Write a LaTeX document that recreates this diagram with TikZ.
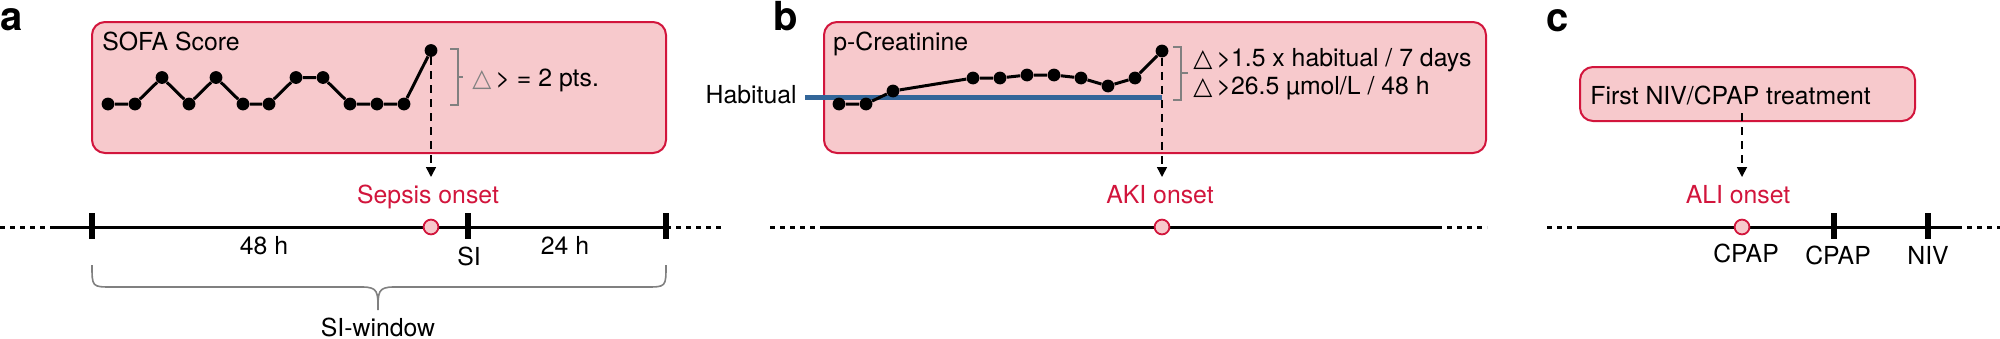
\documentclass[tikz,border=0pt]{standalone}
\usepackage{fontspec}
\setmainfont{TeX Gyre Heros}
\newfontfamily\dejavu{DejaVu Sans}
\usetikzlibrary{arrows.meta}
\definecolor{boxfill}{HTML}{F7C9CC}
\definecolor{boxred}{HTML}{D2153C}
\definecolor{onsetred}{HTML}{D2153C}
\definecolor{habblue}{HTML}{336699}
\definecolor{bracegrey}{HTML}{808080}
\begin{document}
\begin{tikzpicture}[x=0.5pt,y=-0.5pt,
  every node/.style={font=\fontsize{12.4}{14}\selectfont, inner sep=0pt},
  panelbox/.style={draw=boxred, fill=boxfill, line width=1pt, rounded corners=6.5pt, inner sep=0pt},
  panellabel/.style={anchor=base west, font=\fontsize{20}{20}\selectfont\bfseries},
  dot/.style={circle, fill=black, inner sep=0pt, minimum size=6.4pt},
  series/.style={line width=1.5pt},
  darrow/.style={line width=0.8pt, dash pattern=on 4pt off 3pt, -{Triangle[length=5pt,width=5pt]}},
  tl/.style={line width=1.5pt},
  tldash/.style={line width=1.5pt, dash pattern=on 2.5pt off 2.5pt},
  tickmark/.style={rectangle, fill=black, inner sep=0pt, minimum width=2.6pt, minimum height=13pt},
  onset/.style={circle, draw=onsetred, fill=boxfill, line width=0.9pt, minimum size=7.4pt, inner sep=0pt},
  onsetlabel/.style={anchor=base, text=onsetred},
  bracket/.style={draw=bracegrey, line width=0.7pt},
]
\path[fill=white] (0,0) rectangle (2000,338);
\useasboundingbox (0,0) rectangle (2000,338);

% ---------------- panel a ----------------
\node[panellabel] (la) at (0,30) {a};
\node[panelbox, minimum width=287pt, minimum height=65.5pt] (boxA) at (379,87.5) {};
\node[anchor=base west] (sofa) at (102,50) {SOFA Score};
\foreach \i/\x/\y in {1/108/104,2/135/104,3/162/77.5,4/189/104,5/216/77.5,6/243/104,7/269/104,8/296/77.5,9/323/77.5,10/350/104,11/377/104,12/404/104,13/431/50.5}
  \node[dot] (a\i) at (\x,\y) {};
\draw[series] (a1) -- (a2) -- (a3) -- (a4) -- (a5) -- (a6) -- (a7) -- (a8) -- (a9) -- (a10) -- (a11) -- (a12) -- (a13);
\draw[bracket] (450,49) -- (458,49) -- (458,105) -- (450,105) (458,77) -- (463,77);
\node[anchor=base west] (critA) at (472,86) {{\dejavu\color{bracegrey}△}\,> = 2 pts.};
\coordinate (tipA) at (431,177);
\draw[darrow] (a13) -- (tipA);
\node[onsetlabel] (sepsis) at (428,203) {Sepsis onset};

\coordinate (tlA0) at (0,227);
\coordinate (tlA1) at (50,227);
\coordinate (tlA2) at (666,227);
\coordinate (tlA3) at (722,227);
\draw[tldash] (tlA0) -- (tlA1);
\draw[tl] (tlA1) -- (tlA2);
\draw[tldash] (tlA2) -- (tlA3);
\node[tickmark] (tA1) at (92,226) {};
\node[tickmark] (tA2) at (468,226) {};
\node[tickmark] (tA3) at (666,226) {};
\node[onset] (cA) at (431,227) {};
\node[anchor=base] (h48) at (264,254) {48 h};
\node[anchor=base] (si) at (469,265) {SI};
\node[anchor=base] (h24) at (565,254) {24 h};
\draw[bracket, line width=0.8pt] (92,265) .. controls (92,287) and (92,287) .. (112,287) -- (362,287)
  .. controls (378,287) and (378,292) .. (378,310)
  .. controls (378,292) and (378,287) .. (394,287) -- (646,287)
  .. controls (666,287) and (666,287) .. (666,265);
\node[anchor=base] (siwin) at (378,336) {SI-window};

% ---------------- panel b ----------------
\node[panellabel] (lb) at (773,30) {b};
\node[panelbox, minimum width=331pt, minimum height=65.5pt] (boxB) at (1155,87.5) {};
\node[anchor=base west] (creat) at (833,50) {p-Creatinine};
\coordinate (habL) at (805,97);
\coordinate (habR) at (1162,97);
\draw[habblue, line width=2.5pt] (habL) -- (habR);
\node[anchor=base east] (habit) at (797,103) {Habitual};
\foreach \i/\x/\y in {1/839/104,2/866/104,3/893/91,4/973/78,5/1000/78,6/1027/75,7/1054/75,8/1081/78,9/1108/86,10/1135/78,11/1162/51}
  \node[dot] (b\i) at (\x,\y) {};
\draw[series] (b1) -- (b2) -- (b3) -- (b4) -- (b5) -- (b6) -- (b7) -- (b8) -- (b9) -- (b10) -- (b11);
\draw[bracket] (1173,47) -- (1181,47) -- (1181,100) -- (1173,100) (1181,73) -- (1188,73);
\node[anchor=base west] (critB1) at (1193,66) {{\dejavu △}\,>1.5 x habitual / 7 days};
\node[anchor=base west] (critB2) at (1193,94) {{\dejavu △}\,>26.5 µmol/L / 48 h};
\coordinate (tipB) at (1162,177);
\draw[darrow] (b11) -- (tipB);
\node[onsetlabel] (aki) at (1160,203) {AKI onset};

\coordinate (tlB0) at (770,227);
\coordinate (tlB1) at (821,227);
\coordinate (tlB2) at (1437,227);
\coordinate (tlB3) at (1487,227);
\draw[tldash] (tlB0) -- (tlB1);
\draw[tl] (tlB1) -- (tlB2);
\draw[tldash] (tlB2) -- (tlB3);
\node[onset] (cB) at (1162,227) {};

% ---------------- panel c ----------------
\node[panellabel] (lc) at (1546,31) {c};
\node[panelbox, minimum width=167.5pt, minimum height=27pt] (boxC) at (1747.5,94) {};
\node[anchor=base west] (niv) at (1590,104) {First NIV/CPAP treatment};
\coordinate (startC) at (1742,113);
\coordinate (tipC) at (1742,177);
\draw[darrow] (startC) -- (tipC);
\node[onsetlabel] (ali) at (1738,203) {ALI onset};

\coordinate (tlC0) at (1547,227);
\coordinate (tlC1) at (1577,227);
\coordinate (tlC2) at (1957,227);
\coordinate (tlC3) at (2000,227);
\draw[tldash] (tlC0) -- (tlC1);
\draw[tl] (tlC1) -- (tlC2);
\draw[tldash] (tlC2) -- (tlC3);
\node[tickmark] (tC1) at (1834,226) {};
\node[tickmark] (tC2) at (1928,226) {};
\node[onset] (cC) at (1742,227) {};
\node[anchor=base] (cpap1) at (1746,262) {CPAP};
\node[anchor=base] (cpap2) at (1838,264) {CPAP};
\node[anchor=base] (nivl) at (1928,264) {NIV};
\end{tikzpicture}
\end{document}
